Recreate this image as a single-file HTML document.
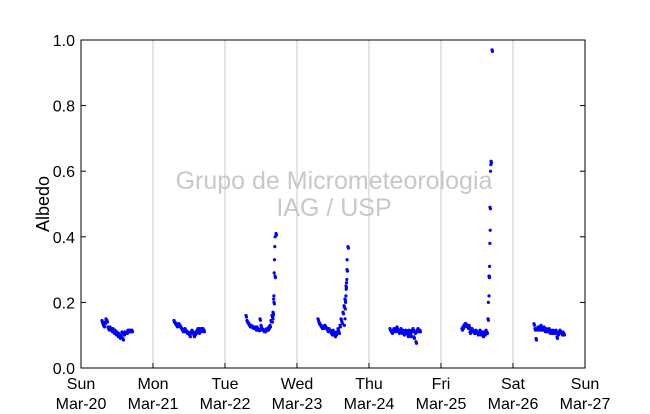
<!DOCTYPE html>
<html><head><meta charset="utf-8"><style>
body{margin:0;background:#fff;font-family:"Liberation Sans",sans-serif}
</style></head><body>
<svg id="chart" width="650" height="409" xmlns="http://www.w3.org/2000/svg" font-family="Liberation Sans, sans-serif">
<rect width="650" height="409" fill="#fff"/>
<g id="grid"></g>
<text x="334" y="189" font-size="25" fill="#c8c8c8" text-anchor="middle">Grupo de Micrometeorologia</text>
<text x="334" y="216" font-size="25" fill="#c8c8c8" text-anchor="middle">IAG / USP</text>
<g id="points"></g>
<rect x="81" y="40" width="504" height="328" fill="none" stroke="#000" stroke-width="1"/>
<g id="axes"></g>
<text transform="translate(49,204) rotate(-90)" font-size="18" text-anchor="middle">Albedo</text>
</svg>
<script>
const dayLabels=["Sun","Mon","Tue","Wed","Thu","Fri","Sat","Sun"];
const dateLabels=["Mar-20","Mar-21","Mar-22","Mar-23","Mar-24","Mar-25","Mar-26","Mar-27"];
const yTicks=[0,0.2,0.4,0.6,0.8,1.0];
const hours=[7,7.33,7.67,8,8.33,8.67,9,9.33,9.67,10,10.33,10.67,11,11.33,11.67,12,12.33,12.67,13,13.33,13.67,14,14.33,14.67,15,15.33,15.67,16,16.33,16.67,17];
const day0=[0.145,0.135,0.13,0.14,0.15,0.145,0.125,0.12,0.125,0.12,0.115,0.12,0.11,0.115,0.105,0.11,0.1,0.105,0.095,0.1,0.11,0.09,0.105,0.11,0.11,0.11,0.115,0.115,0.115,0.115,0.115];
const day1=[0.145,0.14,0.135,0.13,0.135,0.135,0.13,0.125,0.12,0.115,0.115,0.12,0.115,0.11,0.11,0.105,0.1,0.11,0.115,0.11,0.1,0.105,0.11,0.115,0.12,0.11,0.12,0.115,0.12,0.12,0.115];
const day2=[0.16,0.145,0.14,0.135,0.13,0.13,0.128,0.126,0.125,0.125,0.12,0.125,0.12,0.118,0.15,0.13,0.12,0.118,0.115,0.115,0.118,0.12,0.12,0.125,0.13,0.145,0.16,0.17,0.2,0.28,0.41];
const day3=[0.15,0.14,0.135,0.13,0.125,0.125,0.128,0.13,0.125,0.12,0.115,0.12,0.115,0.11,0.105,0.115,0.11,0.1,0.105,0.11,0.12,0.11,0.13,0.15,0.14,0.17,0.19,0.21,0.25,0.3,0.37];
const day4=[0.12,0.115,0.11,0.115,0.12,0.115,0.12,0.125,0.115,0.11,0.115,0.12,0.11,0.115,0.105,0.11,0.115,0.11,0.1,0.115,0.11,0.1,0.115,0.12,0.095,0.11,0.08,0.115,0.12,0.115,0.115];
const day5=[0.12,0.125,0.13,0.135,0.135,0.13,0.125,0.13,0.11,0.115,0.12,0.115,0.11,0.11,0.115,0.11,0.105,0.11,0.115,0.105,0.11,0.1,0.11,0.105,0.115,0.11,0.15,0.28,0.49,0.63,0.97];
const day6=[0.135,0.12,0.09,0.12,0.125,0.125,0.12,0.13,0.12,0.12,0.125,0.115,0.12,0.115,0.115,0.12,0.11,0.115,0.11,0.115,0.11,0.11,0.115,0.095,0.105,0.11,0.115,0.11,0.105,0.11,0.105];
const spikeHours=[15.8,16.0,16.1,16.2,16.3,16.4,16.5,16.6,16.7];
const spike2=[0.14,0.15,0.16,0.21,0.22,0.29,0.33,0.37,0.40];
const spike3=[0.13,0.15,0.18,0.2,0.22,0.24,0.26,0.27,0.33];
const spike5=[0.2,0.22,0.28,0.31,0.38,0.42,0.60,0.62,0.63];
const days=[day0,day1,day2,day3,day4,day5,day6];
const spikes={2:spike2,3:spike3,5:spike5};
const X0=81,X1=585,Y0=368,Y1=40;
const xs=h=>X0+(h/(7*24))*(X1-X0);
const ys=v=>Y0-v*(Y0-Y1);
const NS="http://www.w3.org/2000/svg";
const grid=document.getElementById('grid'),pts=document.getElementById('points'),axes=document.getElementById('axes');
function mk(tag,attrs,parent){const e=document.createElementNS(NS,tag);for(const k in attrs)e.setAttribute(k,attrs[k]);parent.appendChild(e);return e;}
dayLabels.forEach((d,i)=>{const x=xs(i*24);
 if(i>0&&i<7){const l=mk('line',{x1:x,x2:x,y1:Y1,y2:Y0,stroke:'#c8c8c8','stroke-width':1},grid);
 
 }
 const t=mk('line',{x1:x,x2:x,y1:Y0,y2:Y0-5,stroke:'#000'},axes);
 
 
 const tx=mk('text',{x:x,y:389,'font-size':16,'text-anchor':'middle'},axes);tx.textContent=d;
 
 
 const tx2=mk('text',{x:x,y:409,'font-size':16,'text-anchor':'middle'},axes);tx2.textContent=dateLabels[i];
 
 
});
yTicks.forEach(v=>{const y=ys(v);
 const t=mk('line',{x1:X0,x2:X0+5,y1:y,y2:y,stroke:'#000'},axes);
 
 
 const t2=mk('line',{x1:X1,x2:X1-5,y1:y,y2:y,stroke:'#000'},axes);
 
 
 const tx=mk('text',{x:75,y:y+6,'font-size':16,'text-anchor':'end'},axes);tx.textContent=v.toFixed(1);
 
 
});
days.forEach((arr,d)=>{
 arr.forEach((v,i)=>{[0,0.15].forEach(off=>{
  const c=mk('circle',{cx:xs(d*24+hours[i]+off),cy:ys(v)+(off?1.5:0),r:1.6,fill:'#0000ff'},pts);
  
  });});
 const s=spikes[d];
 if(s)s.forEach((v,i)=>{const c=mk('circle',{cx:xs(d*24+spikeHours[i]),cy:ys(v),r:1.6,fill:'#0000ff'},pts);
  
  });
});
</script>
</body></html>
